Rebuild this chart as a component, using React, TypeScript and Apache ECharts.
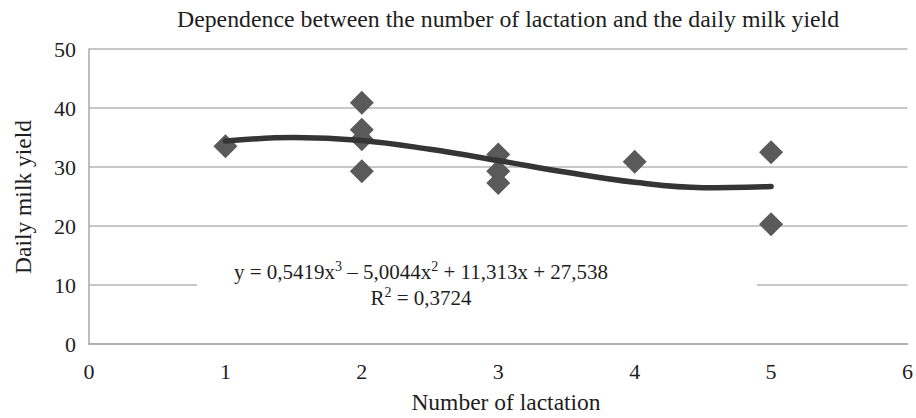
import React, { useEffect, useRef } from "react";
import * as echarts from "echarts";

// Observed data points (number of lactation, daily milk yield)
const lactation = [1, 2, 2, 2, 2, 3, 3, 3, 4, 5, 5];
const milkYield = [33.5, 40.9, 36.3, 34.7, 29.3, 32.1, 29.3, 27.3, 30.9, 32.5, 20.3];

// Trend curve
const trendX = [1, 1.5, 2, 2.5, 3, 3.5, 4, 4.5, 5];
const trendY = [34.4, 35.0, 34.5, 33.0, 31.1, 29.1, 27.4, 26.5, 26.7];

const xTicks = [0, 1, 2, 3, 4, 5, 6];
const yTicks = [0, 10, 20, 30, 40, 50];

const titleText = "Dependence between the number of lactation and the daily milk yield";
const xName = "Number of lactation";
const yName = "Daily milk yield";

const FONT = "'Liberation Serif', 'Times New Roman', serif";
const TXT = "#1e1e1e";

export default function App() {
  const ref = useRef<HTMLDivElement>(null);
  useEffect(() => {
    if (!ref.current) return;
    const chart = echarts.init(ref.current, null, { renderer: "svg" });
    const points = lactation.map((x, i) => [x, milkYield[i]]);
    const trend = trendX.map((x, i) => [x, trendY[i]]);
    const supStyle = { fontFamily: FONT, fontSize: 14, fill: TXT, verticalAlign: "top", padding: [0, 0, 12, 0] };
    chart.setOption({
      animation: false,
      backgroundColor: "#ffffff",
      textStyle: { fontFamily: FONT },
      title: {
        text: titleText,
        left: 503,
        top: 2,
        textAlign: "center",
        textStyle: { fontFamily: FONT, fontSize: 23.8, fontWeight: "normal", color: TXT },
      },
      grid: { left: 89, right: 3, top: 49, bottom: 74 },
      xAxis: {
        type: "value",
        min: xTicks[0],
        max: xTicks[xTicks.length - 1],
        interval: 1,
        axisLine: { show: true, onZero: false, lineStyle: { color: "#a8a8a8", width: 1.5 } },
        axisTick: { show: false },
        splitLine: { show: false },
        axisLabel: { fontFamily: FONT, fontSize: 22, color: TXT, margin: 16 },
      },
      yAxis: {
        type: "value",
        min: yTicks[0],
        max: yTicks[yTicks.length - 1],
        interval: 10,
        axisLine: { show: true, lineStyle: { color: "#a8a8a8", width: 1.5 } },
        axisTick: { show: false },
        splitLine: { show: true, lineStyle: { color: "#b4b4b4", width: 1.5 } },
        axisLabel: { fontFamily: FONT, fontSize: 22, color: TXT, margin: 13 },
      },
      graphic: [
        {
          type: "rect",
          z: 1,
          shape: { x: 197, y: 238, width: 560, height: 92 },
          style: { fill: "#ffffff" },
        },
        {
          type: "text",
          z: 10,
          x: 421,
          y: 272,
          style: {
            text: "y = 0,5419x{sup|3} – 5,0044x{sup|2} + 11,313x + 27,538",
            fontFamily: FONT,
            fontSize: 21,
            fill: TXT,
            align: "center",
            verticalAlign: "middle",
            rich: { sup: supStyle },
          },
        },
        {
          type: "text",
          z: 10,
          x: 421,
          y: 298,
          style: {
            text: "R{sup|2} = 0,3724",
            fontFamily: FONT,
            fontSize: 21,
            fill: TXT,
            align: "center",
            verticalAlign: "middle",
            rich: { sup: supStyle },
          },
        },
        {
          type: "text",
          z: 10,
          x: 506,
          y: 402,
          style: {
            text: xName,
            fontFamily: FONT,
            fontSize: 23.5,
            fill: TXT,
            align: "center",
            verticalAlign: "middle",
          },
        },
        {
          type: "text",
          z: 10,
          x: 23,
          y: 197,
          rotation: Math.PI / 2,
          style: {
            text: yName,
            fontFamily: FONT,
            fontSize: 23.5,
            fill: TXT,
            align: "center",
            verticalAlign: "middle",
          },
        },
      ],
      series: [
        {
          type: "scatter",
          data: points,
          symbol: "diamond",
          symbolSize: 24,
          itemStyle: { color: "#5a5a5a", opacity: 1 },
          z: 2,
        },
        {
          type: "line",
          data: trend,
          smooth: 0.4,
          showSymbol: false,
          symbol: "none",
          lineStyle: { color: "#353535", width: 5.5, cap: "round" },
          z: 3,
        },
      ],
    });
    return () => chart.dispose();
  }, []);
  return (
    <div
      ref={ref}
      style={{ position: "fixed", left: 0, top: 0, width: 916, height: 418 }}
    />
  );
}
